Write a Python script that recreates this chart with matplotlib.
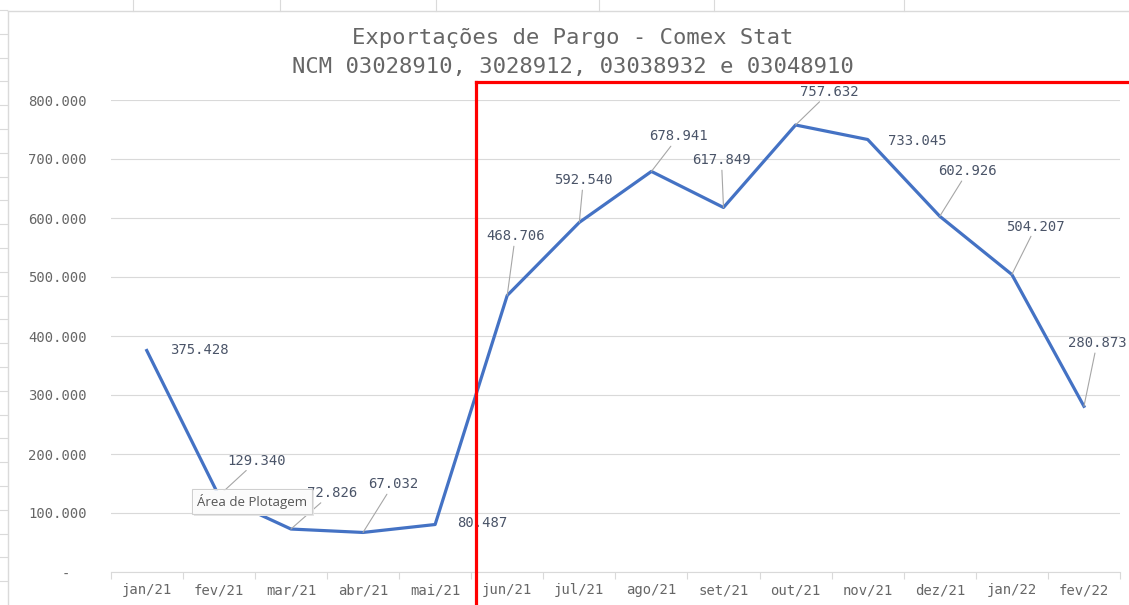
import matplotlib
matplotlib.use("Agg")
import matplotlib.pyplot as plt
from matplotlib.lines import Line2D

meses = ["jan/21", "fev/21", "mar/21", "abr/21", "mai/21", "jun/21", "jul/21",
         "ago/21", "set/21", "out/21", "nov/21", "dez/21", "jan/22", "fev/22"]
exportacoes = [375428, 129340, 72826, 67032, 80487, 468706, 592540,
               678941, 617849, 757632, 733045, 602926, 504207, 280873]
y_ticks = [0, 100000, 200000, 300000, 400000, 500000, 600000, 700000, 800000]

# posicao dos rotulos (pixels relativos ao ponto) e se tem linha de chamada
rotulo_offset = [(53, 0), (38, 35), (41, 36), (30, 48), (47, 2), (8, 59), (4, 42),
                 (27, 35), (-2, 47), (34, 33), (50, -1), (28, 45), (24, 48), (13, 63)]
tem_chamada = [False, True, True, True, False, True, True,
               True, True, True, False, True, True, True]

W, H = 1129, 605
fig = plt.figure(figsize=(W / 100, H / 100), dpi=100)
fig.patch.set_facecolor("white")


def fx(x):
    return x / W


def fy(y):
    return 1 - y / H


# grade da planilha ao fundo
cinza_planilha = "#dadada"
fig.add_artist(Line2D([fx(8), fx(W)], [fy(11), fy(11)], color=cinza_planilha, lw=1, transform=fig.transFigure))
fig.add_artist(Line2D([fx(8), fx(8)], [fy(11), fy(H)], color=cinza_planilha, lw=1, transform=fig.transFigure))
for cx in [133, 280, 436, 599, 714, 904]:
    fig.add_artist(Line2D([fx(cx), fx(cx)], [fy(0), fy(11)], color=cinza_planilha, lw=0.8, transform=fig.transFigure))
ry = 10
while ry < H:
    fig.add_artist(Line2D([fx(0), fx(7)], [fy(ry), fy(ry)], color=cinza_planilha, lw=0.8, transform=fig.transFigure))
    ry += 23.8

ax = fig.add_axes([fx(110.7), fy(572), (1120 - 110.7) / W, (572 - 100) / H])
ax.set_facecolor("none")

x = list(range(len(meses)))
ax.plot(x, exportacoes, color="#4472C4", lw=2.3, solid_joinstyle="round", zorder=3)

ax.set_xlim(-0.5, len(meses) - 0.5)
ax.set_ylim(0, 800000)

ax.set_yticks(y_ticks)
ax.set_yticklabels(["-  "] + [f"{v:,}".replace(",", ".") for v in y_ticks[1:]])
ax.set_xticks(x)
ax.set_xticklabels(meses)
ax.set_xticks([i - 0.5 for i in range(len(meses) + 1)], minor=True)

fonte = "DejaVu Sans Mono"
ax.tick_params(axis="y", length=0, pad=17, labelsize=10, labelcolor="#666666")
ax.tick_params(axis="x", which="major", length=0, pad=8, labelsize=10, labelcolor="#666666")
ax.tick_params(axis="x", which="minor", length=5, width=0.8, color="#d9d9d9")
for t in ax.get_xticklabels() + ax.get_yticklabels():
    t.set_fontfamily(fonte)

ax.grid(axis="y", color="#d9d9d9", lw=0.8)
ax.set_axisbelow(True)
for lado in ["left", "right", "top"]:
    ax.spines[lado].set_visible(False)
ax.spines["bottom"].set_color("#d9d9d9")
ax.spines["bottom"].set_linewidth(0.8)

for i, v in enumerate(exportacoes):
    texto = f"{v:,}".replace(",", ".")
    props = None
    if tem_chamada[i]:
        props = dict(arrowstyle="-", color="#a6a6a6", lw=0.8, shrinkA=0, shrinkB=0)
    ax.annotate(texto, (i, v), xytext=rotulo_offset[i], textcoords="offset pixels",
                ha="center", va="center", fontsize=10, family=fonte, color="#4a5468",
                arrowprops=props, annotation_clip=False, zorder=4)

# titulo
fig.text(fx(573), fy(38), "Exportações de Pargo - Comex Stat", ha="center", va="center",
         fontsize=16, family=fonte, color="#666666")
fig.text(fx(573), fy(67), "NCM 03028910, 3028912, 03038932 e 03048910", ha="center", va="center",
         fontsize=16, family=fonte, color="#666666")

# marcacao vermelha
fig.add_artist(Line2D([fx(475.5), fx(475.5)], [fy(82), fy(H)], color="#ff0000", lw=2.3, transform=fig.transFigure, zorder=10))
fig.add_artist(Line2D([fx(475.5), fx(W)], [fy(82), fy(82)], color="#ff0000", lw=2.3, transform=fig.transFigure, zorder=10))

# dica da area de plotagem
fig.text(fx(254), fy(503.5), "Área de Plotagem", ha="center", va="center", fontsize=9.5,
         family="Open Sans", color=(0, 0, 0, 0), zorder=11,
         bbox=dict(boxstyle="square,pad=0.35", fc="#e6e6e6", ec="none"))
fig.text(fx(252), fy(501.5), "Área de Plotagem", ha="center", va="center", fontsize=9.5,
         family="Open Sans", color="#555555", zorder=12,
         bbox=dict(boxstyle="square,pad=0.35", fc=(1, 1, 1, 0.85), ec="#cfcfcf", lw=0.8))

fig.savefig("out.png", dpi=100)
